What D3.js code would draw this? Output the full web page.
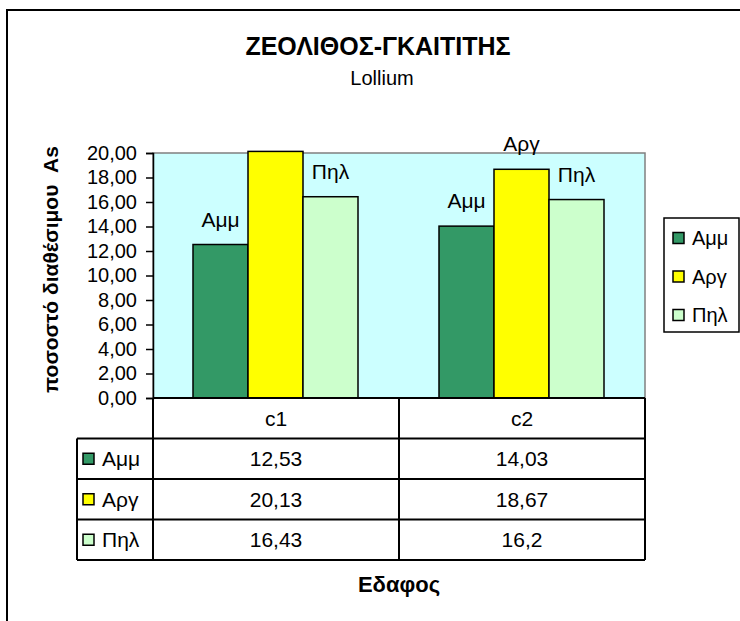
<!DOCTYPE html>
<html>
<head>
<meta charset="utf-8">
<title>ΖΕΟΛΙΘΟΣ-ΓΚΑΙΤΙΤΗΣ</title>
<script src="https://d3js.org/d3.v7.min.js"></script>
<style>
body { margin: 0; background: #fff; }
text { font-family: "Liberation Sans", Arial, sans-serif; fill: #000; }
</style>
</head>
<body>
<div id="my_dataviz"></div>
<script>

// data
var categories = ["c1", "c2"];
var seriesNames = ["Αμμ", "Αργ", "Πηλ"];
var seriesColors = ["#339966", "#ffff00", "#ccffcc"];
var ammValues = [12.53, 14.03];
var argValues = [20.13, 18.67];
var pilValues = [16.43, 16.2];
var yTicks = [0, 2, 4, 6, 8, 10, 12, 14, 16, 18, 20];

var seriesValues = [ammValues, argValues, pilValues];

// flatten into one row per bar
var bars = [];
seriesNames.forEach(function(s, i) {
  categories.forEach(function(c, j) {
    bars.push({series: s, cat: c, value: seriesValues[i][j]});
  });
});

var W = 740, H = 621;
var margin = {top: 153, left: 153},
    width = 492,
    height = 245;

var svg = d3.select("#my_dataviz")
  .append("svg")
    .attr("width", W)
    .attr("height", H);

svg.append("rect").attr("width", W).attr("height", H).attr("fill", "#fff");

// outer chart frame (runs off the right and bottom of the picture)
svg.append("rect")
  .attr("x", 7).attr("y", 10)
  .attr("width", 800).attr("height", 700)
  .attr("fill", "none").attr("stroke", "#000").attr("stroke-width", 2);

// titles
svg.append("text")
  .attr("x", 378).attr("y", 55)
  .attr("text-anchor", "middle")
  .style("font-size", "25px").style("font-weight", "bold")
  .text("ΖΕΟΛΙΘΟΣ-ΓΚΑΙΤΙΤΗΣ");

svg.append("text")
  .attr("x", 382).attr("y", 85)
  .attr("text-anchor", "middle")
  .style("font-size", "20px")
  .text("Lollium");

var g = svg.append("g")
  .attr("transform", "translate(" + margin.left + "," + margin.top + ")");

// scales
var x = d3.scaleBand().domain(categories).range([0, width]);
var xSub = d3.scaleBand().domain(seriesNames).range([40, x.bandwidth() - 41]);
var y = d3.scaleLinear().domain([0, 20]).range([height, 0]);
var color = d3.scaleOrdinal().domain(seriesNames).range(seriesColors);

// plot area
g.append("rect")
  .attr("width", width).attr("height", height)
  .attr("fill", "#ccffff")
  .attr("stroke", "#808080").attr("stroke-width", 1.5);

// Y axis
var yAxis = g.append("g")
  .call(d3.axisLeft(y)
    .tickValues(yTicks)
    .tickSize(7)
    .tickPadding(9)
    .tickFormat(function(d) { return d3.format(".2f")(d).replace(".", ","); }));
yAxis.select(".domain").attr("stroke", "#000").attr("stroke-width", 1.5);
yAxis.selectAll(".tick line").attr("stroke", "#000").attr("stroke-width", 1.5);
yAxis.selectAll("text")
  .style("font-family", "'Liberation Sans', Arial, sans-serif")
  .style("font-size", "20px");

// Y axis title
svg.append("text")
  .attr("transform", "translate(58," + (margin.top + height / 2 - 6) + ") rotate(-90)")
  .attr("text-anchor", "middle")
  .style("font-size", "21px").style("font-weight", "bold")
  .style("white-space", "pre")
  .text("ποσοστό διαθέσιμου  As");

// bars
g.append("g")
  .selectAll("rect")
  .data(bars)
  .enter()
  .append("rect")
    .attr("x", function(d) { return x(d.cat) + xSub(d.series); })
    .attr("y", function(d) { return y(d.value); })
    .attr("width", xSub.bandwidth())
    .attr("height", function(d) { return height - y(d.value); })
    .attr("fill", function(d) { return color(d.series); })
    .attr("stroke", "#000").attr("stroke-width", 1.5);

// series labels above bars (only where the bar stays inside the axis)
g.append("g")
  .selectAll("text")
  .data(bars.filter(function(d) { return d.value <= y.domain()[1]; }))
  .enter()
  .append("text")
    .attr("x", function(d) { return x(d.cat) + xSub(d.series) + xSub.bandwidth() / 2; })
    .attr("y", function(d) { return y(d.value) - 18; })
    .attr("text-anchor", "middle")
    .style("font-size", "21px")
    .text(function(d) { return d.series; });

// data table under the plot
var tTop = margin.top + height;
var rowH = 40.5;
var tLeft = 77;
var tRight = margin.left + width;
var fmt = function(v) { return String(v).replace(".", ","); };

var table = svg.append("g");

// header row (category names)
categories.forEach(function(c) {
  table.append("text")
    .attr("x", margin.left + x(c) + x.bandwidth() / 2)
    .attr("y", tTop + rowH / 2)
    .attr("dy", "0.35em")
    .attr("text-anchor", "middle")
    .style("font-size", "21px")
    .text(c);
});

// horizontal lines
table.append("line")
  .attr("x1", margin.left).attr("x2", tRight)
  .attr("y1", tTop).attr("y2", tTop)
  .attr("stroke", "#000").attr("stroke-width", 2);
d3.range(1, seriesNames.length + 2).forEach(function(i) {
  table.append("line")
    .attr("x1", tLeft).attr("x2", tRight)
    .attr("y1", tTop + i * rowH).attr("y2", tTop + i * rowH)
    .attr("stroke", "#000").attr("stroke-width", 2);
});

// vertical lines
var tBottom = tTop + (seriesNames.length + 1) * rowH;
table.append("line")
  .attr("x1", tLeft).attr("x2", tLeft)
  .attr("y1", tTop + rowH).attr("y2", tBottom)
  .attr("stroke", "#000").attr("stroke-width", 2);
categories.concat(["end"]).forEach(function(c, i) {
  var xx = margin.left + i * x.bandwidth();
  table.append("line")
    .attr("x1", xx).attr("x2", xx)
    .attr("y1", tTop).attr("y2", tBottom)
    .attr("stroke", "#000").attr("stroke-width", 2);
});

// series rows
seriesNames.forEach(function(s, i) {
  var cy = tTop + (i + 1.5) * rowH;
  table.append("rect")
    .attr("x", 83).attr("y", cy - 5.5)
    .attr("width", 11).attr("height", 11)
    .attr("fill", color(s)).attr("stroke", "#000").attr("stroke-width", 1.5);
  table.append("text")
    .attr("x", 102).attr("y", cy).attr("dy", "0.35em")
    .style("font-size", "21px")
    .text(s);
  categories.forEach(function(c, j) {
    table.append("text")
      .attr("x", margin.left + x(c) + x.bandwidth() / 2)
      .attr("y", cy).attr("dy", "0.35em")
      .attr("text-anchor", "middle")
      .style("font-size", "21px")
      .text(fmt(seriesValues[i][j]));
  });
});

// X axis title
svg.append("text")
  .attr("x", 399).attr("y", 592)
  .attr("text-anchor", "middle")
  .style("font-size", "22px").style("font-weight", "bold")
  .text("Εδαφος");

// legend
var legend = svg.append("g");
legend.append("rect")
  .attr("x", 664).attr("y", 218)
  .attr("width", 75).attr("height", 114)
  .attr("fill", "#fff").attr("stroke", "#000").attr("stroke-width", 1.5);
seriesNames.forEach(function(s, i) {
  var cy = 238 + i * 38.5;
  legend.append("rect")
    .attr("x", 673).attr("y", cy - 5.5)
    .attr("width", 11).attr("height", 11)
    .attr("fill", color(s)).attr("stroke", "#000").attr("stroke-width", 1.5);
  legend.append("text")
    .attr("x", 692).attr("y", cy).attr("dy", "0.35em")
    .style("font-size", "20px")
    .text(s);
});

</script>
</body>
</html>
